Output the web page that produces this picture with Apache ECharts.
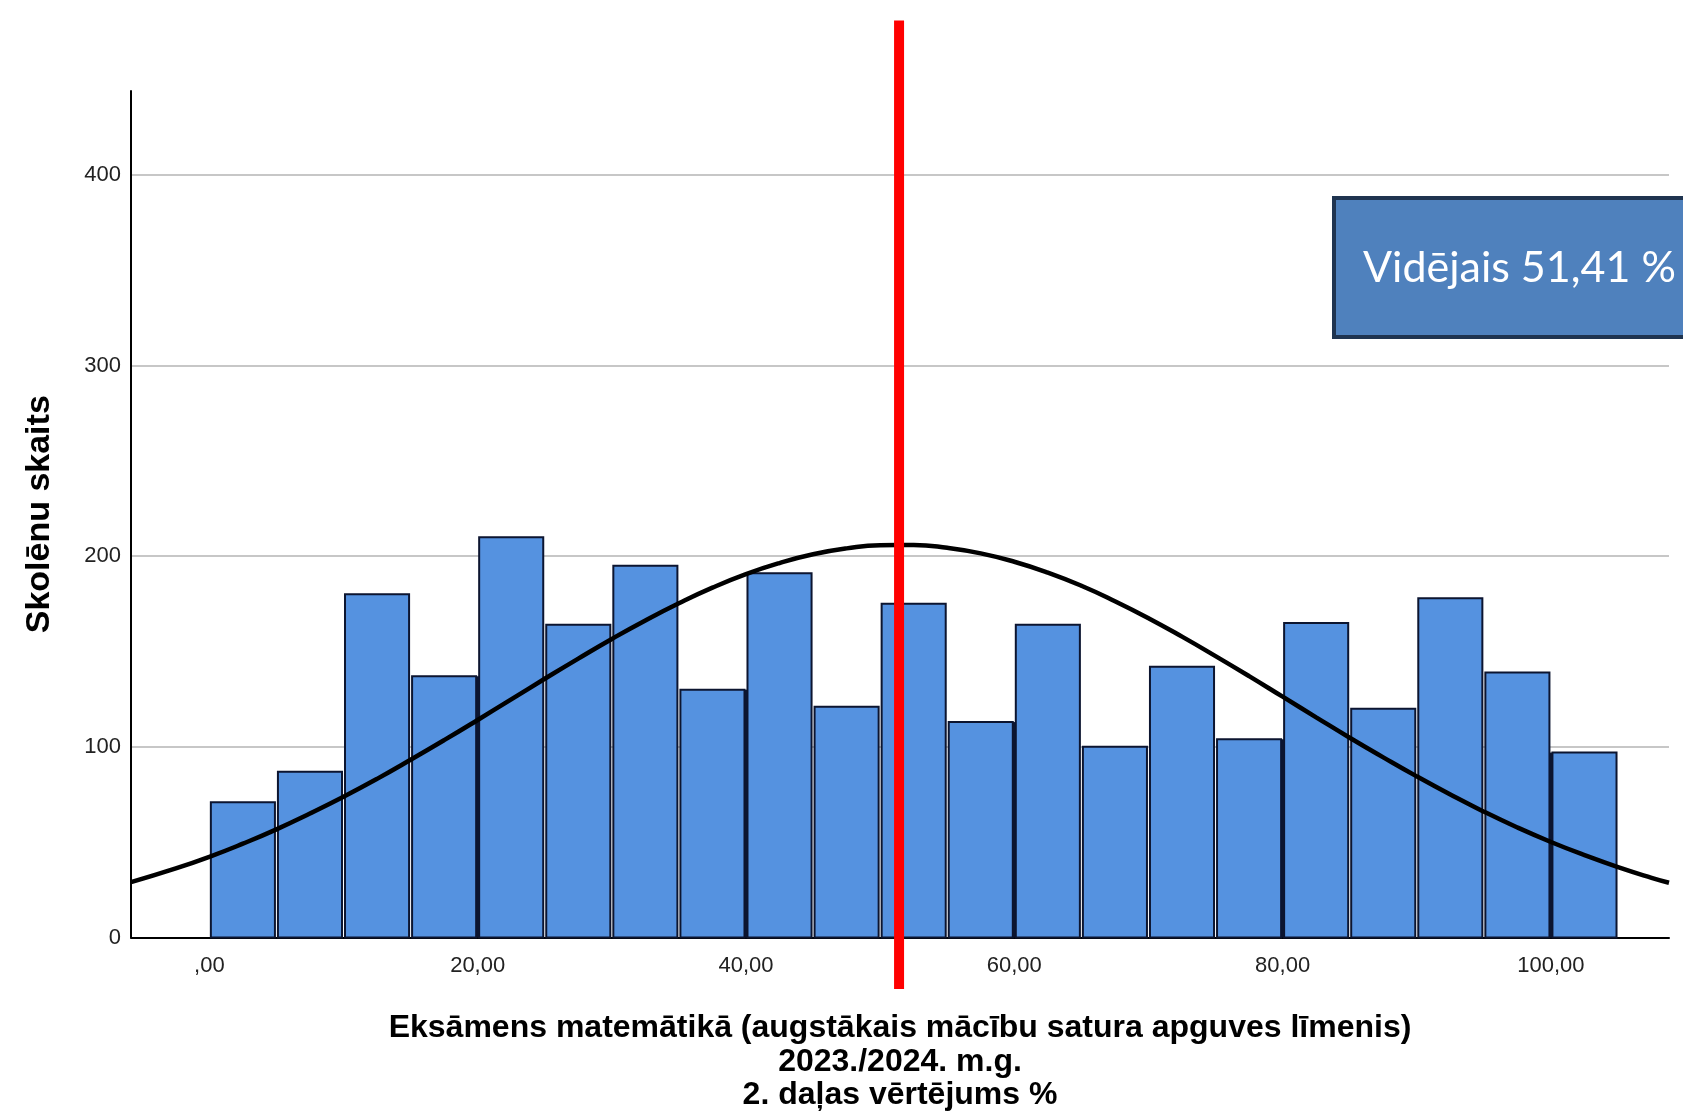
<!DOCTYPE html>
<html>
<head>
<meta charset="utf-8">
<script src="https://cdn.jsdelivr.net/npm/echarts@6/dist/echarts.min.js"></script>
<style>
html, body { margin: 0; padding: 0; background: #fff; }
#chart { width: 1683px; height: 1117px; }
</style>
</head>
<body>
<div id="chart"></div>
<script>
// histogram bins (start of each 5-point bin) and student counts
const binStarts = [0, 5, 10, 15, 20, 25, 30, 35, 40, 45, 50, 55, 60, 65, 70, 75, 80, 85, 90, 95, 100]
const binWidth = 5
const counts = [71, 87, 180, 137, 210, 164, 195, 130, 191, 121, 175, 113, 164, 100, 142, 104, 165, 120, 178, 139, 97]

// normal curve
const curveX = [-5.84, -2.5, 0, 2.5, 5, 7.5, 10, 12.5, 15, 17.5, 20, 22.5, 25, 27.5, 30, 32.5, 35, 37.5, 40, 42.5, 45, 47.5, 50,
    52.5, 55, 57.5, 60, 62.5, 65, 67.5, 70, 72.5, 75, 77.5, 80, 82.5, 85, 87.5, 90, 92.5, 95, 97.5, 100, 102.5, 105, 107.5, 108.8]
const curveY = [29, 36.2, 42.3, 49.2, 56.7, 65, 73.8, 83.2, 93.2, 103.5, 114.1, 124.9, 135.7, 146.3, 156.6, 166.3, 175.3, 183.5, 190.6, 196.4, 201, 204.1, 205.8,
    205.9, 204.4, 201.5, 197.1, 191.4, 184.5, 176.4, 167.5, 157.8, 147.6, 137.1, 126.3, 115.5, 104.8, 94.5, 84.5, 75, 66, 57.7, 50.1, 43.2, 36.9, 31.3, 28.7]

const meanValue = 51.41
const meanLabel = 'Vidējais 51,41 %'

const xTicks = [0, 20, 40, 60, 80, 100]
const yTicks = [0, 100, 200, 300, 400]

const xTitle = 'Eksāmens matemātikā (augstākais mācību satura apguves līmenis)\n2023./2024. m.g.\n2. daļas vērtējums %'
const yTitle = 'Skolēnu skaits'

const barColor = '#5592e0'
const barEdge = '#0c1530'
const fontTitle = '"Liberation Sans", Arial, sans-serif'
const fontTick = 'Arial, "Liberation Sans", sans-serif'

const chart = echarts.init(document.getElementById('chart'), null, { renderer: 'canvas' })

chart.setOption({
    animation: false,
    grid: { left: 131, right: 14, top: 91, bottom: 175 },
    xAxis: {
        type: 'value',
        min: -5.84,
        max: 108.8,
        name: xTitle,
        nameLocation: 'middle',
        nameGap: 74,
        nameTextStyle: { fontFamily: fontTitle, fontWeight: 'bold', fontSize: 32, lineHeight: 33.5, color: '#000' },
        axisLine: { show: true, onZero: false, lineStyle: { color: '#000', width: 2 }},
        axisTick: { show: false },
        splitLine: { show: false },
        axisLabel: {
            customValues: xTicks,
            margin: 17,
            fontFamily: fontTick,
            fontSize: 22,
            color: '#222',
            formatter: v => v === 0 ? ',00' : v.toFixed(2).replace('.', ','),
        },
    },
    yAxis: {
        type: 'value',
        min: 0,
        max: 444,
        name: yTitle,
        nameLocation: 'middle',
        nameGap: 74,
        nameTextStyle: { fontFamily: fontTitle, fontWeight: 'bold', fontSize: 34, color: '#000' },
        axisLine: { show: true, onZero: false, lineStyle: { color: '#000', width: 2 }},
        axisTick: { show: false },
        splitLine: { show: true, showMaxLine: false, lineStyle: { color: '#b4b4b4', width: 1.5 }},
        axisLabel: {
            customValues: yTicks,
            margin: 10,
            padding: [8, 0, 0, 0],
            fontFamily: fontTick,
            fontSize: 22,
            color: '#222',
        },
    },
    series: [
        {
            type: 'custom',
            z: 2,
            data: binStarts.map((b, i) => [b, b + binWidth, counts[i]]),
            encode: { x: [0, 1], y: 2 },
            renderItem: function (params, api) {
                let i = params.dataIndex
                let start = api.value(0)
                let p0 = api.coord([start, 0])
                let p1 = api.coord([api.value(1), api.value(2)])
                let children = [{
                    type: 'rect',
                    shape: { x: p0[0] + 1.5, y: p1[1], width: p1[0] - p0[0] - 3, height: p0[1] - p1[1] },
                    style: { fill: barColor, stroke: barEdge, lineWidth: 2 },
                }]
                // SPSS draws a heavier shared edge where a tick falls between two bars
                if (i > 0 && xTicks.indexOf(start) >= 0) {
                    let top = api.coord([start, Math.min(counts[i], counts[i - 1])])
                    children.push({
                        type: 'line',
                        shape: { x1: p0[0], y1: p0[1], x2: top[0], y2: top[1] },
                        style: { stroke: barEdge, lineWidth: 3 },
                    })
                }
                return { type: 'group', children: children }
            },
        },
        {
            type: 'line',
            z: 3,
            smooth: true,
            symbol: 'none',
            data: curveX.map((x, i) => [x, curveY[i]]),
            lineStyle: { color: '#000', width: 4.5 },
        },
        {
            type: 'custom',
            z: 4,
            clip: false,
            data: [[meanValue, 481, -27]],
            renderItem: function (params, api) {
                let top = api.coord([api.value(0), api.value(1)])
                let bottom = api.coord([api.value(0), api.value(2)])
                return {
                    type: 'line',
                    shape: { x1: top[0], y1: top[1], x2: bottom[0], y2: bottom[1] },
                    style: { stroke: '#ff0000', lineWidth: 10 },
                }
            },
        },
    ],
    graphic: [
        {
            type: 'rect',
            z: 10,
            shape: { x: 1334, y: 198, width: 420, height: 139 },
            style: { fill: '#4f81bd', stroke: '#1f3450', lineWidth: 4 },
        },
        {
            type: 'text',
            z: 11,
            x: 1363,
            y: 268,
            style: {
                text: meanLabel,
                fill: '#fff',
                font: '43px Lato, "Open Sans", sans-serif',
                verticalAlign: 'middle',
                align: 'left',
            },
        },
    ],
})
</script>
</body>
</html>
